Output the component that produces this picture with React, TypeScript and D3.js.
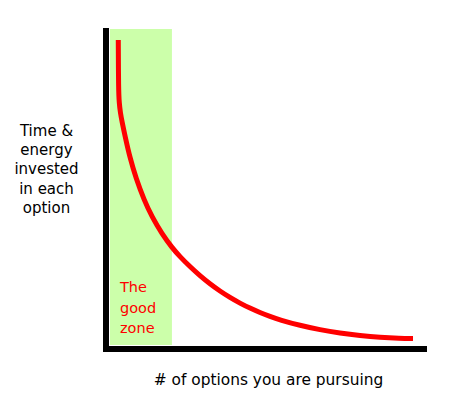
import React from "react";
import * as d3 from "d3";

// Curve: time & energy per option vs number of options (relative units 0-100)
const optionsCount = [3.84, 3.91, 4.13, 4.5, 5.0, 5.94, 7.5, 9.38, 11.88, 14.38, 17.5, 20.63, 23.13, 26.25, 29.38, 32.5, 35.63, 38.75, 41.88, 45.0, 48.13, 51.25, 54.38, 60.63, 66.88, 73.13, 79.38, 85.63, 91.88, 95.94];
const timeInvested = [96.56, 80.94, 76.88, 73.75, 71.09, 66.59, 59.69, 53.31, 46.63, 41.25, 35.97, 31.69, 28.84, 25.72, 22.88, 20.34, 18.09, 16.09, 14.31, 12.75, 11.38, 10.16, 9.09, 7.34, 6.0, 4.97, 4.19, 3.63, 3.34, 3.28];
const goodZone = [1.25, 20.6];
const zoneLabel = ["The", "good", "zone"];
const yLabel = ["Time &", "energy", "invested", "in each", "option"];
const xLabel = "# of options you are pursuing";

const W = 462;
const H = 406;

export default function App() {
  const x = d3.scaleLinear().domain([0, 100]).range([106, 426]);
  const y = d3.scaleLinear().domain([0, 100]).range([349, 29]);
  const pts: [number, number][] = optionsCount.map((v, i) => [v, timeInvested[i]]);
  const line = d3
    .line<[number, number]>()
    .x((d) => x(d[0]))
    .y((d) => y(d[1]))
    .curve(d3.curveBasis);
  const font = "'DejaVu Sans', Verdana, sans-serif";
  return (
    <svg
      width={W}
      height={H}
      style={{ position: "absolute", left: 0, top: 0, background: "#fff" }}
    >
      <rect
        x={x(goodZone[0])}
        y={y(100)}
        width={x(goodZone[1]) - x(goodZone[0])}
        height={y(1.25) - y(100)}
        fill="#ccffaa"
      />
      <path d={line(pts) || ""} fill="none" stroke="#ff0000" strokeWidth={5} strokeLinecap="butt" />
      <rect x={103} y={28} width={6} height={324} fill="#000" />
      <rect x={103} y={346} width={324} height={6} fill="#000" />
      {zoneLabel.map((t, i) => (
        <text key={t} x={120} y={292 + i * 20.5} fill="#ff0000" fontSize={14.5} fontFamily={font}>
          {t}
        </text>
      ))}
      {yLabel.map((t, i) => (
        <text key={t} x={46.5} y={136 + i * 19.2} textAnchor="middle" fill="#000" fontSize={15} fontFamily={font}>
          {t}
        </text>
      ))}
      <text x={268.5} y={385} textAnchor="middle" fill="#000" fontSize={15.4} fontFamily={font}>
        {xLabel}
      </text>
    </svg>
  );
}
